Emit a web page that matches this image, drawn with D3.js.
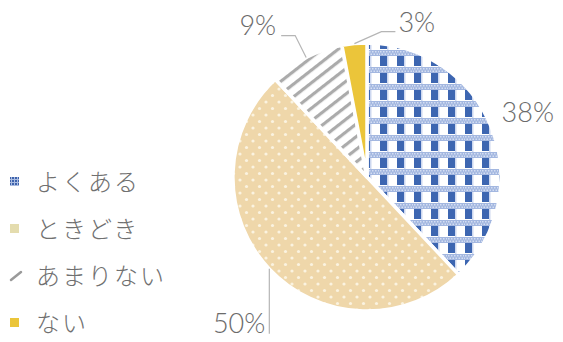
<!DOCTYPE html>
<html>
<head>
<meta charset="utf-8">
<script src="https://cdn.jsdelivr.net/npm/d3@7"></script>
<style>
  body { margin: 0; background: #fff; }
  svg { display: block; }
</style>
</head>
<body>
<div id="chart"></div>
<script>
// chart data
var categories = ['よくある', 'ときどき', 'あまりない', 'ない'];
var values = [38, 50, 9, 3];
var pctLabels = ['38%', '50%', '9%', '3%'];

var svgWidth = 563, svgHeight = 342;
var cx = 367, cy = 177, radius = 134;

var svg = d3.select('#chart').append('svg')
	.attr('width', svgWidth).attr('height', svgHeight);

// patterns for the slices
var defs = svg.append('defs');

var blue = defs.append('pattern').attr('id', 'pBlue')
	.attr('patternUnits', 'userSpaceOnUse').attr('width', 17).attr('height', 17)
	.attr('x', cx + 2).attr('y', cy - radius);
blue.append('rect').attr('width', 17).attr('height', 17).attr('fill', '#fff');
blue.append('rect').attr('x', 0).attr('y', 0).attr('width', 17).attr('height', 6).attr('fill', '#a3b7e0');
// little checks inside the light band
[1, 4, 7, 10, 13, 16].forEach(function(x){
	blue.append('rect').attr('x', x).attr('y', 1).attr('width', 1.5).attr('height', 1.5).attr('fill', '#d4def2');
	blue.append('rect').attr('x', x - 1.5).attr('y', 3.5).attr('width', 1.5).attr('height', 1.5).attr('fill', '#d4def2');
});
blue.append('rect').attr('x', 8).attr('y', 6).attr('width', 1.5).attr('height', 11).attr('fill', '#cdd8f0');
blue.append('rect').attr('x', 1).attr('y', 6).attr('width', 7).attr('height', 10).attr('fill', '#3d66b1');

var peach = defs.append('pattern').attr('id', 'pPeach')
	.attr('patternUnits', 'userSpaceOnUse').attr('width', 13).attr('height', 13);
peach.append('rect').attr('width', 13).attr('height', 13).attr('fill', '#efd7aa');
peach.append('circle').attr('cx', 3).attr('cy', 3).attr('r', 1.6).attr('fill', '#fbf3e0');
peach.append('circle').attr('cx', 9.5).attr('cy', 9.5).attr('r', 1.6).attr('fill', '#fbf3e0');

var grey = defs.append('pattern').attr('id', 'pGrey')
	.attr('patternUnits', 'userSpaceOnUse').attr('width', 10).attr('height', 10)
	.attr('patternTransform', 'rotate(52)');
grey.append('rect').attr('width', 10).attr('height', 10).attr('fill', '#fff');
grey.append('rect').attr('x', 0).attr('width', 3.2).attr('height', 10).attr('fill', '#ababab');

var blueMini = defs.append('pattern').attr('id', 'pBlueMini')
	.attr('patternUnits', 'userSpaceOnUse').attr('width', 3).attr('height', 3);
blueMini.append('rect').attr('width', 3).attr('height', 3).attr('fill', '#a9bbe0');
blueMini.append('rect').attr('width', 2).attr('height', 2).attr('fill', '#3e63ad');

var fills = ['url(#pBlue)', 'url(#pPeach)', 'url(#pGrey)', '#ebc53a'];
var legendFills = ['url(#pBlueMini)', '#e4dcae', null, '#ebc53a'];

var pie = d3.pie().sort(null).value(function(d){ return d; });
var arcs = pie(values);
var arc = d3.arc().innerRadius(0).outerRadius(radius);
var edgeArc = d3.arc().innerRadius(radius).outerRadius(radius);

var g = svg.append('g').attr('transform', 'translate(' + cx + ',' + cy + ')');
g.selectAll('path').data(arcs).enter().append('path')
	.attr('d', arc)
	.attr('fill', function(d, i){ return fills[i]; })
	.attr('stroke', '#fff').attr('stroke-width', 3.5).attr('stroke-linejoin', 'round');

// leader lines + percentage labels
// layout: elbow offsets from the arc point, label anchor offsets
var labelLayout = [
	{pts: [], tx: 10, ty: -6, anchor: 'start'},
	{pts: [[0, 65]], tx: -4, ty: 64, anchor: 'end'},
	{pts: [[-11, -22], [-25, -22]], tx: -30, ty: -23, anchor: 'end'},
	{pts: [[27, -12], [41, -12]], tx: 44, ty: -12, anchor: 'start'}
];

var lab = g.append('g');
arcs.forEach(function(d, i){
	var p = edgeArc.centroid(d);
	var L = labelLayout[i];
	if (L.pts.length) {
		var line = [p].concat(L.pts.map(function(q){ return [p[0] + q[0], p[1] + q[1]]; }));
		lab.append('path').attr('d', d3.line()(line))
			.attr('fill', 'none').attr('stroke', '#b5b5b5').attr('stroke-width', 1.2);
	}
	lab.append('text')
		.attr('x', p[0] + L.tx).attr('y', p[1] + L.ty)
		.attr('text-anchor', L.anchor)
		.attr('font-family', 'Lato, "Liberation Sans", sans-serif')
		.attr('font-weight', 300)
		.attr('font-size', 27)
		.attr('fill', '#6b6b6b')
		.text(pctLabels[i]);
});

// legend
var legendY = d3.scalePoint().domain(categories).range([182, 323]);
var legend = svg.append('g');
categories.forEach(function(c, i){
	var y = legendY(c);
	if (legendFills[i]) {
		legend.append('rect').attr('x', 10).attr('y', y - 5).attr('width', 9).attr('height', 9)
			.attr('fill', legendFills[i]);
	} else {
		legend.append('line').attr('x1', 11).attr('y1', y + 4).attr('x2', 21).attr('y2', y - 4)
			.attr('stroke', '#9a9a9a').attr('stroke-width', 2.5).attr('stroke-linecap', 'round');
	}
	legend.append('text')
		.attr('x', 36).attr('y', y + 9)
		.attr('font-family', '"Noto Sans CJK JP", sans-serif')
		.attr('font-weight', 300)
		.attr('font-size', 24)
		.attr('letter-spacing', 2)
		.attr('fill', '#707070')
		.text(c);
});
</script>
</body>
</html>
